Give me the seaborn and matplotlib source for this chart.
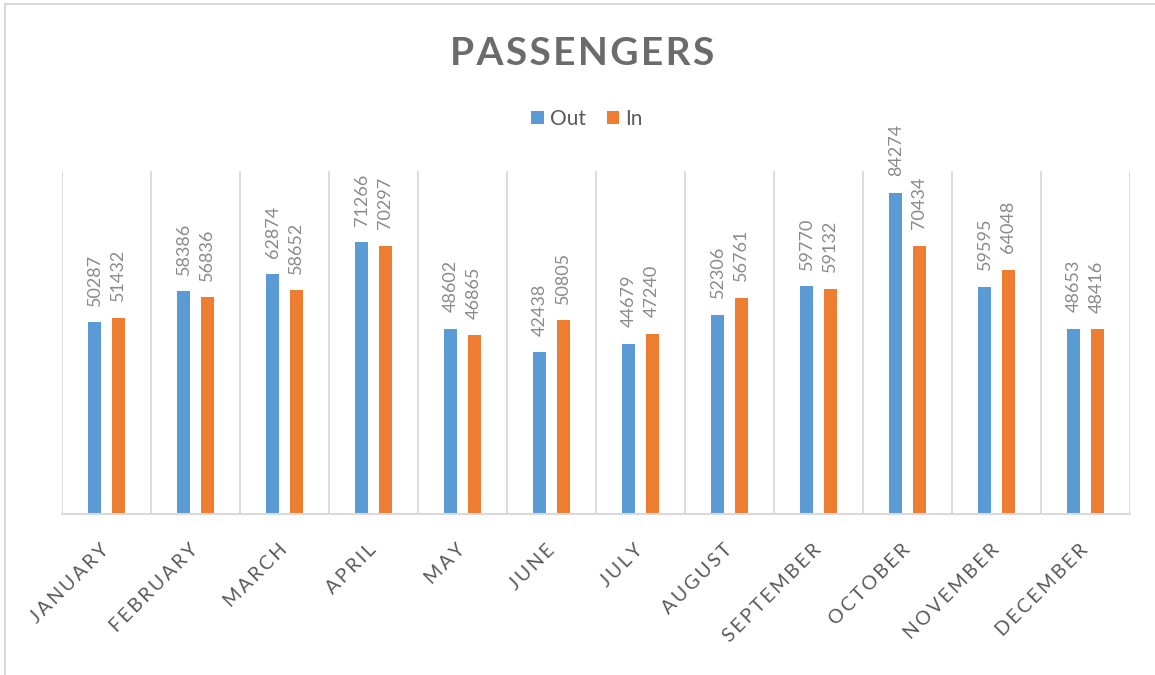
import matplotlib
matplotlib.use("Agg")
import matplotlib.pyplot as plt
from matplotlib.lines import Line2D
from matplotlib.patches import Patch
import numpy as np
import pandas as pd
import seaborn as sns

months = ["JANUARY", "FEBRUARY", "MARCH", "APRIL", "MAY", "JUNE", "JULY",
          "AUGUST", "SEPTEMBER", "OCTOBER", "NOVEMBER", "DECEMBER"]
out_values = [50287, 58386, 62874, 71266, 48602, 42438, 44679, 52306,
              59770, 84274, 59595, 48653]
in_values = [51432, 56836, 58652, 70297, 46865, 50805, 47240, 56761,
             59132, 70434, 64048, 48416]
series = ["Out", "In"]
colors = {"Out": "#5B9BD5", "In": "#ED7D31"}

df = pd.DataFrame({
    "month": months * 2,
    "passengers": out_values + in_values,
    "direction": ["Out"] * len(months) + ["In"] * len(months),
})

sns.set_theme(style="white")
plt.rcParams["font.family"] = ["Lato", "DejaVu Sans"]

W, H = 1155, 675
fig = plt.figure(figsize=(W / 100, H / 100), dpi=100)
ax = fig.add_axes([62 / W, (H - 514) / H, (1130 - 62) / W, (514 - 171) / H])

sns.barplot(data=df, x="month", y="passengers", hue="direction",
            hue_order=series, order=months, palette=colors, saturation=1,
            width=0.52, gap=0.44, dodge=True, linewidth=0,
            errorbar=None, legend=False, ax=ax)

ax.set_ylim(0, 90000)
ax.set_xlim(-0.5, len(months) - 0.5)
ax.set_xlabel("")
ax.set_ylabel("")
ax.set_yticks([])

# category separators as vertical gridlines
ax.set_xticks(np.arange(-0.5, len(months)), minor=True)
ax.grid(which="minor", axis="x", color="#D9D9D9", linewidth=1.3)
ax.grid(which="major", visible=False)
ax.tick_params(axis="x", which="both", length=0)

for side in ["top", "right", "left"]:
    ax.spines[side].set_visible(False)
ax.spines["bottom"].set_color("#D9D9D9")
ax.spines["bottom"].set_linewidth(1.5)

spaced = ["\u2009".join(m) for m in months]
ax.set_xticks(range(len(months)))
ax.set_xticklabels(spaced, rotation=45, ha="right", va="center",
                   rotation_mode="anchor", fontsize=14, color="#595959")
ax.tick_params(axis="x", pad=24)

for cont, vals in zip(ax.containers, [out_values, in_values]):
    ax.bar_label(cont, labels=[str(v) for v in vals], rotation=90,
                 padding=12, fontsize=13, color="#8A8A8A", clip_on=False)

fig.text(582 / W, 1 - 65 / H, "\u200a".join("PASSENGERS"), ha="center",
         va="baseline", fontsize=28, fontweight="bold", color="#6B6B6B")

handles = [Patch(facecolor=colors[s], edgecolor="none", label=s) for s in series]
fig.legend(handles=handles, loc="center", ncol=2, frameon=False,
           bbox_to_anchor=(587 / W, 1 - 119 / H), fontsize=15,
           handlelength=0.6, handleheight=0.6, handletextpad=0.3,
           columnspacing=1.0, labelcolor="#595959")

# chart-area frame (top and left edges)
fig.add_artist(Line2D([5 / W, 1], [1 - 4 / H, 1 - 4 / H], color="#D9D9D9",
                      linewidth=1.5, transform=fig.transFigure))
fig.add_artist(Line2D([5 / W, 5 / W], [0, 1 - 4 / H], color="#D9D9D9",
                      linewidth=1.5, transform=fig.transFigure))

fig.savefig("out.png", dpi=100, facecolor="white")
